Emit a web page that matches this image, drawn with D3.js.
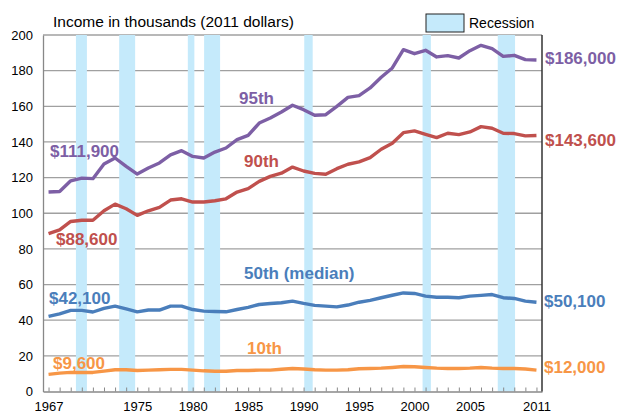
<!DOCTYPE html>
<html>
<head>
<meta charset="utf-8">
<title>Income percentiles</title>
<script src="https://d3js.org/d3.v7.min.js"></script>
<style>
body { margin: 0; background: #fff; }
svg { font-family: Arial, "Liberation Sans", sans-serif; }
.lbl { font-weight: bold; font-size: 17px; }
.tick text { font-size: 13px; fill: #000; }
</style>
</head>
<body>
<div id="chart"></div>
<script>
// years on the x axis
var years = [1967,1968,1969,1970,1971,1972,1973,1974,1975,1976,1977,1978,1979,1980,1981,1982,1983,1984,1985,1986,1987,1988,1989,
  1990,1991,1992,1993,1994,1995,1996,1997,1998,1999,2000,2001,2002,2003,2004,2005,2006,2007,2008,2009,2010,2011];

// income in thousands (2011 dollars)
var p95 = [111.9,112.2,118.2,119.7,119.4,127.6,131.0,126.3,122.0,125.4,128.2,132.8,135.1,131.9,131.0,134.3,136.6,141.3,143.7,150.6,153.4,156.8,
  160.6,158.1,155.0,155.3,160.0,165.0,166.0,170.3,176.3,181.5,191.8,189.5,191.4,187.7,188.4,187.1,191.2,194.2,192.3,188.0,188.6,186.2,186.0];
var p90 = [88.6,90.7,95.4,96.1,96.1,101.4,105.1,102.5,98.8,101.4,103.3,107.4,108.1,106.3,106.3,107.0,108.1,111.9,113.8,117.9,120.7,122.5,
  125.9,123.7,122.4,121.9,125.0,127.5,128.8,131.2,135.9,139.3,145.2,146.2,144.3,142.4,144.9,144.1,145.6,148.6,147.7,144.9,144.7,143.4,143.6];
var p50 = [42.1,43.6,45.5,45.5,44.6,46.6,47.9,46.4,44.7,45.7,45.7,47.9,47.9,46.0,45.1,44.9,44.7,46.0,47.2,48.8,49.4,49.8,
  50.7,49.4,48.3,47.9,47.5,48.5,50.1,51.1,52.6,54.0,55.3,55.0,53.5,52.9,52.9,52.6,53.5,53.9,54.4,52.6,52.2,50.7,50.1];
var p10 = [9.6,10.3,10.7,10.7,10.7,11.4,12.2,12.2,11.8,12.0,12.2,12.4,12.4,12.0,11.6,11.4,11.4,11.8,11.8,12.0,12.0,12.5,
  12.9,12.6,12.2,12.0,12.0,12.2,12.8,12.9,13.1,13.5,14.0,13.9,13.5,13.1,12.9,12.9,13.1,13.5,13.1,12.9,12.9,12.6,12.0];

// recessions (start, end in year units)
var recStart = [1969.47,1973.37,1979.56,1981.03,1990.06,2000.73,2007.51];
var recEnd   = [1970.46,1974.81,1980.15,1982.47,1990.82,2001.48,2009.07];

var xTickYears = [1967,1975,1980,1985,1990,1995,2000,2005,2011];
var yTicks = [0,20,40,60,80,100,120,140,160,180,200];

var purple = "#7d5fa5", red = "#c0504d", blue = "#4a7ebb", orange = "#f79646";

var W = 624, H = 416;
var svg = d3.select("#chart").append("svg").attr("width", W).attr("height", H);

var x = d3.scaleLinear().domain([1966.5, 2011.5]).range([43, 542]);
var y = d3.scaleLinear().domain([0, 200]).range([391.5, 35]);

// gridlines
svg.append("g").selectAll("line").data(yTicks.slice(1)).enter().append("line")
  .attr("x1", 43).attr("x2", 542)
  .attr("y1", function(d) { return y(d); }).attr("y2", function(d) { return y(d); })
  .attr("stroke", "#a0a0a0").attr("stroke-width", 1.3);

// recession bands
svg.append("g").selectAll("rect").data(recStart).enter().append("rect")
  .attr("x", function(d) { return x(d); })
  .attr("width", function(d, i) { return x(recEnd[i]) - x(d); })
  .attr("y", y(200)).attr("height", y(0) - y(200))
  .attr("fill", "#c5eafb");

// y axis
var yAxis = svg.append("g").attr("transform", "translate(43,0)")
  .call(d3.axisLeft(y).tickValues(yTicks).tickSize(0).tickPadding(10));
yAxis.select(".domain").attr("stroke", "#888").attr("stroke-width", 1.3);

// x axis, inward ticks at every year
var xAxis = svg.append("g").attr("transform", "translate(0," + y(0) + ")")
  .call(d3.axisBottom(x).tickValues(years).tickSize(-4).tickSizeOuter(0)
    .tickFormat(function(d) { return xTickYears.indexOf(d) >= 0 ? d : ""; }));
xAxis.select(".domain").attr("stroke", "#888").attr("stroke-width", 1.3);
xAxis.selectAll(".tick line").attr("stroke", "#888");
xAxis.selectAll(".tick text").attr("y", 10).attr("dy", "0.71em");

// right border
svg.append("line").attr("x1", 542).attr("x2", 542).attr("y1", y(200)).attr("y2", y(0))
  .attr("stroke", "#333").attr("stroke-width", 1.5);

// lines
var line = d3.line().x(function(d, i) { return x(years[i]); }).y(function(d) { return y(d); });
[[p95, purple], [p90, red], [p50, blue], [p10, orange]].forEach(function(s) {
  svg.append("path").datum(s[0]).attr("d", line)
    .attr("fill", "none").attr("stroke", s[1]).attr("stroke-width", 3.4)
    .attr("stroke-linejoin", "round");
});

// title and legend
svg.append("text").attr("x", 53).attr("y", 27).style("font-size", "15.5px").text("Income in thousands (2011 dollars)");
svg.append("rect").attr("x", 426).attr("y", 14).attr("width", 38).attr("height", 18)
  .attr("fill", "#c5eafb").attr("stroke", "#222").attr("stroke-width", 1);
svg.append("text").attr("x", 469).attr("y", 28).style("font-size", "14px").text("Recession");

// series annotations
function lbl(tx, xx, yy, c) {
  svg.append("text").attr("class", "lbl").attr("x", xx).attr("y", yy).attr("fill", c).text(tx);
}
lbl("$111,900", 50, 157, purple);
lbl("95th", 239, 104, purple);
lbl("$186,000", 545, 64, purple);
lbl("$88,600", 56, 245, red);
lbl("90th", 244, 167, red);
lbl("$143,600", 545, 146, red);
lbl("$42,100", 49, 304, blue);
lbl("50th (median)", 244, 279, blue);
lbl("$50,100", 544, 307, blue);
lbl("$9,600", 53, 369, orange);
lbl("10th", 247, 354, orange);
lbl("$12,000", 544, 373, orange);
</script>
</body>
</html>
